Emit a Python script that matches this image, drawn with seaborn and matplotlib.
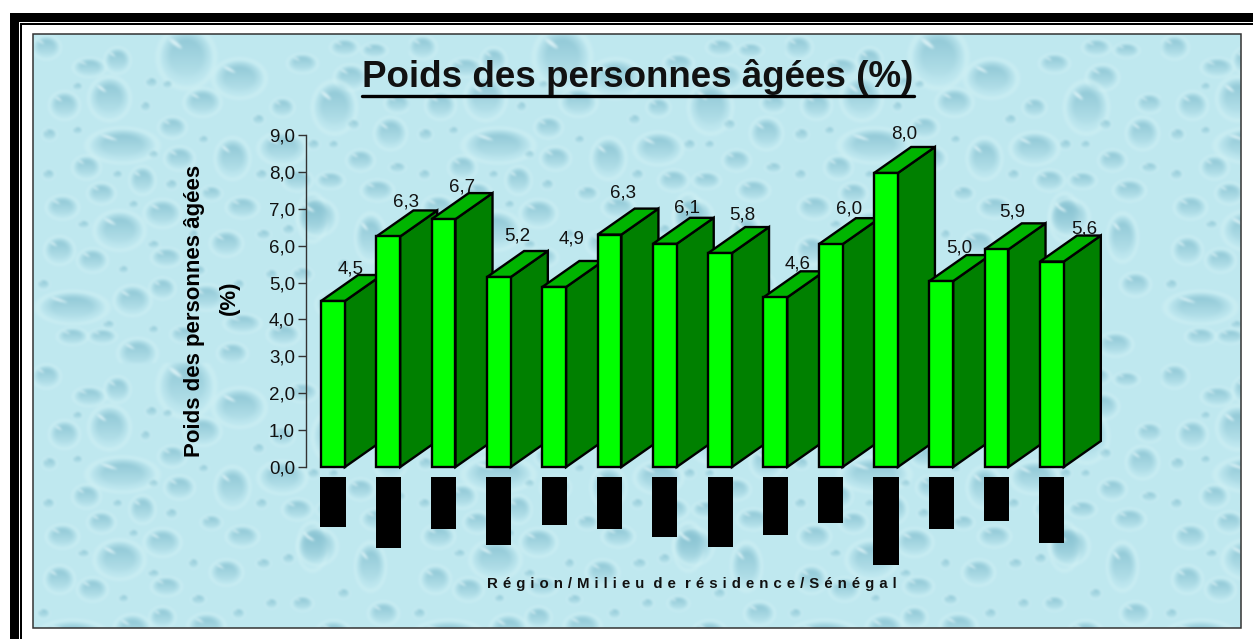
import numpy as np
import matplotlib
matplotlib.use("Agg")
import matplotlib.pyplot as plt
import seaborn as sns
from matplotlib.patches import Polygon, Rectangle
from matplotlib.lines import Line2D

# region names are blacked out in the source, only their widths can be read
regions = ["R01", "R02", "R03", "R04", "R05", "R06", "R07",
           "R08", "R09", "R10", "R11", "R12", "R13", "R14"]
weights = [4.5, 6.25, 6.72, 5.15, 4.88, 6.3, 6.05, 5.8, 4.6, 6.04, 7.97, 5.04, 5.9, 5.57]
value_labels = ["4,5", "6,3", "6,7", "5,2", "4,9", "6,3", "6,1",
                "5,8", "4,6", "6,0", "8,0", "5,0", "5,9", "5,6"]
hidden_name_len = [1.36, 1.92, 1.41, 1.84, 1.30, 1.41, 1.63,
                   1.90, 1.57, 1.25, 2.38, 1.41, 1.19, 1.79]
y_ticks = [0, 1, 2, 3, 4, 5, 6, 7, 8, 9]
y_tick_labels = ["0,0", "1,0", "2,0", "3,0", "4,0", "5,0", "6,0", "7,0", "8,0", "9,0"]

title = "Poids des personnes âgées (%)"
y_title = "Poids des personnes âgées"
y_unit = "(%)"
x_title = "Région/Milieu de résidence/Sénégal"

# label offsets from the bar top, pixels
label_dx = [18, 18, 18, 18, 17, 14, 22, 22, 22, 18, 18, 18, 16, 32]
label_dy = [32, 34, 32, 41, 48, 42, 36, 38, 33, 35, 39, 33, 37, 33]

# droplets of the wallpaper tile: x, y, rx, ry
drops = [
    (153, 23, 26, 28), (206, 44, 24, 18), (76, 64, 19, 20), (31, 71, 14, 13),
    (169, 68, 17, 13), (89, 111, 32, 16), (199, 124, 16, 19), (139, 93, 13, 10),
    (56, 33, 15, 9), (84, 26, 12, 12), (13, 13, 13, 11), (249, 73, 11, 9),
    (269, 29, 14, 9), (53, 133, 13, 11), (109, 146, 12, 13), (29, 173, 15, 11),
    (68, 159, 13, 10), (86, 196, 23, 18), (26, 216, 14, 13), (59, 226, 14, 11),
    (133, 223, 14, 9), (146, 124, 14, 11), (129, 179, 17, 13), (209, 173, 15, 10),
    (193, 209, 15, 12), (178, 159, 10, 7), (99, 266, 17, 14), (39, 273, 32, 15),
    (129, 254, 12, 10), (249, 114, 22, 15), (279, 183, 14, 22), (209, 289, 17, 9),
    (173, 263, 17, 12), (269, 240, 10, 7), (317, 43, 15, 12), (301, 73, 20, 24),
    (364, 69, 12, 9), (357, 99, 15, 15), (341, 16, 12, 7), (311, 13, 13, 8),
    (327, 126, 13, 10), (264, 146, 14, 10), (297, 146, 13, 8), (344, 156, 15, 10),
    (364, 133, 8, 5), (284, 183, 18, 17), (337, 203, 14, 22), (104, 319, 18, 14),
    (199, 319, 14, 10), (39, 302, 14, 8), (69, 302, 13, 7), (300, 270, 16, 12),
    (350, 250, 14, 11), (250, 300, 15, 10), (330, 310, 16, 11), (150, 300, 12, 8),
    # small ones filling the gaps
    (118, 48, 6, 5), (44, 52, 5, 4), (112, 72, 5, 5), (134, 50, 5, 4), (225, 85, 6, 5),
    (16, 100, 7, 6), (44, 96, 5, 4), (120, 120, 5, 4), (170, 105, 5, 4), (228, 140, 6, 5),
    (84, 140, 5, 4), (15, 140, 6, 5), (138, 150, 6, 5), (100, 170, 5, 4), (50, 190, 6, 4),
    (160, 200, 5, 5), (230, 200, 7, 5), (120, 210, 6, 4), (238, 240, 6, 5), (90, 235, 5, 4),
    (10, 250, 6, 5), (165, 236, 7, 5), (205, 250, 6, 5), (75, 290, 6, 4), (120, 295, 5, 4),
    (280, 110, 6, 5), (300, 110, 5, 4), (320, 90, 6, 5), (255, 195, 6, 5), (310, 230, 6, 5),
]


def water_tile(w=376, h=329):
    yy, xx = np.mgrid[0:h, 0:w]
    img = np.ones((h, w, 3)) * np.array([0.75, 0.91, 0.94])
    dark = np.array([0.53, 0.76, 0.82])
    light = np.array([0.83, 0.95, 0.96])
    for cx, cy, rx, ry in drops:
        u = (xx - cx) / rx
        v = (yy - cy) / ry
        r = np.sqrt(u ** 2 + v ** 2)
        rim = np.clip(1 - np.abs(r - 1.1) / 0.16, 0, 1)[..., None] * 0.55
        img = img * (1 - rim) + light * rim
        a = (np.clip((1 - r) * 2.5, 0, 1) * np.clip(0.55 - 0.5 * v, 0, 1))[..., None] * 0.9
        img = img * (1 - a) + dark * a
        # little highlight on the upper left
        hu = (u + 0.42) * 0.82 + (v + 0.5) * 0.57
        hv = -(u + 0.42) * 0.57 + (v + 0.5) * 0.82
        hi = (np.clip(1 - (hu / 0.32) ** 2 - (hv / 0.09) ** 2, 0, 1) ** 0.5)[..., None] * 0.8
        img = img * (1 - hi) + np.array([0.92, 0.98, 0.99]) * hi
    for _ in range(2):
        img = sum(np.roll(np.roll(img, i, 0), j, 1) for i in (-1, 0, 1) for j in (-1, 0, 1)) / 9
    return img


sns.set_theme(style="ticks")
plt.rcParams["font.family"] = ["Liberation Sans", "DejaVu Sans"]

fig = plt.figure(figsize=(12.53, 6.39), dpi=100, facecolor="white")

# page frame and wallpaper, in pixels
bg = fig.add_axes([0, 0, 1, 1])
bg.set_xlim(0, 1253)
bg.set_ylim(639, 0)
bg.axis("off")
wall = np.tile(water_tile(), (2, 4, 1))[:594, :1208]
bg.imshow(wall, extent=(33, 1241, 628, 34), aspect="auto", interpolation="bilinear", zorder=1)
bg.set_xlim(0, 1253)
bg.set_ylim(639, 0)
bg.add_patch(Rectangle((33, 34), 1208, 594, fill=False, ec="#333333", lw=1.1, zorder=2))
bg.add_patch(Rectangle((10, 13), 1243, 8.8, fc="black", ec="none"))
bg.add_patch(Rectangle((10, 13), 9, 626, fc="black", ec="none"))
bg.add_patch(Rectangle((20, 22.7), 1233, 2.3, fc="black", ec="none"))
bg.add_patch(Rectangle((20, 22.7), 2, 616.3, fc="black", ec="none"))

# main axes: 0-9 sits between y=467 and y=135, one region every 55.3 px
ax = fig.add_axes([306 / 1253, 1 - 577.7 / 639, (1100 - 306) / 1253, (577.7 - 135) / 639])
ax.patch.set_alpha(0)
sns.barplot(x=regions, y=weights, color="#00ff00", saturation=1, width=0.43,
            edgecolor="black", linewidth=1.7, ax=ax)
ax.set_xlim(-0.488, 13.87)
ax.set_ylim(-3, 9)

depth_x = 0.67
depth_y = 0.705
for i, (bar, val) in enumerate(zip(ax.patches, weights)):
    left = bar.get_x()
    right = left + bar.get_width()
    side = Polygon([(right, 0), (right + depth_x, depth_y),
                    (right + depth_x, val + depth_y), (right, val)],
                   fc="#008000", ec="black", lw=1.7, joinstyle="miter", zorder=3 + i, clip_on=False)
    top = Polygon([(left, val), (left + depth_x, val + depth_y),
                   (right + depth_x, val + depth_y), (right, val)],
                  fc="#00b400", ec="black", lw=1.7, joinstyle="miter", zorder=3 + i, clip_on=False)
    ax.add_patch(side)
    ax.add_patch(top)
    bar.set_zorder(3.5 + i)
    bar.set_clip_on(False)
    ax.annotate(value_labels[i], (i, val), xytext=(label_dx[i] * 0.72, label_dy[i] * 0.72),
                textcoords="offset points", ha="center", va="center",
                fontsize=13.5, color="#111111", zorder=40)

# blacked out region names
ax.bar(range(len(regions)), [-n for n in hidden_name_len], bottom=-0.27, width=0.455,
       color="black", lw=0)

ax.set_yticks(y_ticks)
ax.set_yticklabels(y_tick_labels, fontsize=13.5, color="#111111")
ax.set_xticks([])
ax.tick_params(axis="y", length=5.5, width=1, color="#333333", pad=2.5)
ax.spines["left"].set_bounds(0, 9)
ax.spines["left"].set_color("#333333")
ax.spines["left"].set_linewidth(1)
for s in ["top", "right", "bottom"]:
    ax.spines[s].set_visible(False)

ax.set_ylabel(y_title, fontsize=16, fontweight="bold", color="black")
ax.yaxis.set_label_coords((205 - 306) / 794, (577.7 - 311) / 442.7)
fig.text(229 / 1253, 1 - 298 / 639, y_unit, fontsize=16, fontweight="bold",
         rotation=90, ha="center", va="center", color="black")

# source text is letter spaced
spaced_x = "\u2004".join(x_title).replace("\u2004 \u2004", " \u2004")
fig.text(692 / 1253, 1 - 584 / 639, spaced_x, fontsize=10.8, fontweight="bold",
         ha="center", va="center", color="#111111")

title_txt = fig.text(638 / 1253, 1 - 77 / 639, title, fontsize=26.5, fontweight="bold",
                     ha="center", va="center", color="#111111")
fig.canvas.draw()
box = title_txt.get_window_extent()
fig.add_artist(Line2D([box.x0 / 1253, box.x1 / 1253], [1 - 95.5 / 639, 1 - 95.5 / 639],
                      color="black", lw=2.4, transform=fig.transFigure))

fig.savefig("out.png", dpi=100)
